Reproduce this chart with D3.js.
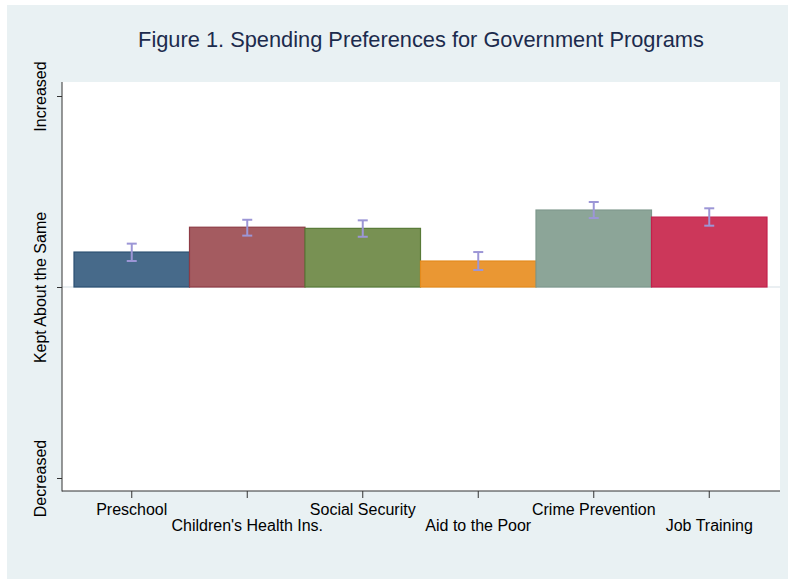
<!DOCTYPE html>
<html>
<head>
<meta charset="utf-8">
<script src="https://cdn.jsdelivr.net/npm/d3@7.9.0/dist/d3.min.js"></script>
<style>
  body { margin: 0; background: #fff; }
  svg { display: block; font-family: "Liberation Sans", Arial, Helvetica, sans-serif; }
</style>
</head>
<body>
<div id="chart"></div>
<script>
// programs, in plot order
const categories = ['Preschool', "Children's Health Ins.", 'Social Security', 'Aid to the Poor', 'Crime Prevention', 'Job Training'];
// mean preference (-1 = decreased, 0 = kept about the same, 1 = increased)
const means = [0.183, 0.313, 0.307, 0.136, 0.403, 0.366];
const lower = [0.136, 0.269, 0.263, 0.089, 0.361, 0.321];
const upper = [0.227, 0.352, 0.349, 0.183, 0.445, 0.412];
const fills = ['#476a8a', '#a45b60', '#789153', '#ea9733', '#8ca598', '#cc375a'];
const strokes = ['#2a4f72', '#8e3b45', '#587a37', '#e48a1c', '#7e988c', '#c3204b'];
const yTickValues = [-1, 0, 1];
const yTickLabels = ['Decreased', 'Kept About the Same', 'Increased'];

const width = 788, height = 579;
const plot = { left: 62, right: 780, top: 82, bottom: 491 };

const svg = d3.select('#chart').append('svg')
  .attr('width', width)
  .attr('height', height);

// outer background
svg.append('rect')
  .attr('x', 7).attr('y', 5)
  .attr('width', width - 7).attr('height', height - 5)
  .attr('fill', '#e9f1f3');

svg.append('rect')
  .attr('x', plot.left).attr('y', plot.top)
  .attr('width', plot.right - plot.left).attr('height', plot.bottom - plot.top)
  .attr('fill', '#fff');

svg.append('text')
  .attr('x', (plot.left + plot.right) / 2)
  .attr('y', 47)
  .attr('text-anchor', 'middle')
  .attr('font-size', 21.8)
  .attr('fill', '#1c2b4d')
  .text('Figure 1. Spending Preferences for Government Programs');

const x = d3.scaleBand()
  .domain(categories)
  .range([74, 767])
  .padding(0);

const y = d3.scaleLinear()
  .domain([-1, 1])
  .range([478, 96]);

// reference line at "kept about the same"
svg.append('line')
  .attr('x1', plot.left).attr('x2', plot.right)
  .attr('y1', y(0)).attr('y2', y(0))
  .attr('stroke', '#e3eaee')
  .attr('stroke-width', 1.5);

const rows = categories.map((c, i) => ({ c, mean: means[i], lo: lower[i], hi: upper[i], fill: fills[i], stroke: strokes[i] }));

svg.append('g')
  .selectAll('rect')
  .data(rows)
  .join('rect')
  .attr('x', d => x(d.c))
  .attr('y', d => y(d.mean))
  .attr('width', x.bandwidth())
  .attr('height', d => y(0) - y(d.mean))
  .attr('fill', d => d.fill)
  .attr('stroke', d => d.stroke)
  .attr('stroke-width', 1.2);

// error bars
const eb = svg.append('g')
  .attr('stroke', '#9c96d6')
  .attr('stroke-width', 2)
  .selectAll('g')
  .data(rows)
  .join('g')
  .attr('transform', d => `translate(${x(d.c) + x.bandwidth() / 2},0)`);

eb.append('line')
  .attr('y1', d => y(d.lo)).attr('y2', d => y(d.hi));
eb.append('line')
  .attr('x1', -5).attr('x2', 5)
  .attr('y1', d => y(d.hi)).attr('y2', d => y(d.hi));
eb.append('line')
  .attr('x1', -5).attr('x2', 5)
  .attr('y1', d => y(d.lo)).attr('y2', d => y(d.lo));

// axes
const xAxis = d3.axisBottom(x).tickSize(7).tickSizeOuter(0).tickPadding(6);
const gx = svg.append('g')
  .attr('transform', `translate(0,${plot.bottom})`)
  .call(xAxis);
gx.select('.domain').remove();
gx.selectAll('.tick line').attr('stroke', '#333');
gx.selectAll('.tick text')
  .attr('font-size', 16)
  .attr('font-family', null)
  .attr('fill', '#000')
  .attr('y', (d, i) => i % 2 ? 29 : 13);

const yAxis = d3.axisLeft(y)
  .tickValues(yTickValues)
  .tickFormat((d, i) => yTickLabels[i])
  .tickSize(5)
  .tickSizeOuter(0);
const gy = svg.append('g')
  .attr('transform', `translate(${plot.left},0)`)
  .call(yAxis);
gy.select('.domain').remove();
gy.selectAll('.tick line').attr('stroke', '#333');
gy.selectAll('.tick text')
  .attr('font-size', 16)
  .attr('font-family', null)
  .attr('fill', '#000')
  .attr('x', null).attr('dy', null)
  .attr('text-anchor', 'middle')
  .attr('transform', 'translate(-16,0) rotate(-90)');

svg.append('line')
  .attr('x1', plot.left).attr('x2', plot.left)
  .attr('y1', plot.top).attr('y2', plot.bottom + 0.5)
  .attr('stroke', '#333');
svg.append('line')
  .attr('x1', plot.left).attr('x2', plot.right)
  .attr('y1', plot.bottom).attr('y2', plot.bottom)
  .attr('stroke', '#333');
</script>
</body>
</html>
